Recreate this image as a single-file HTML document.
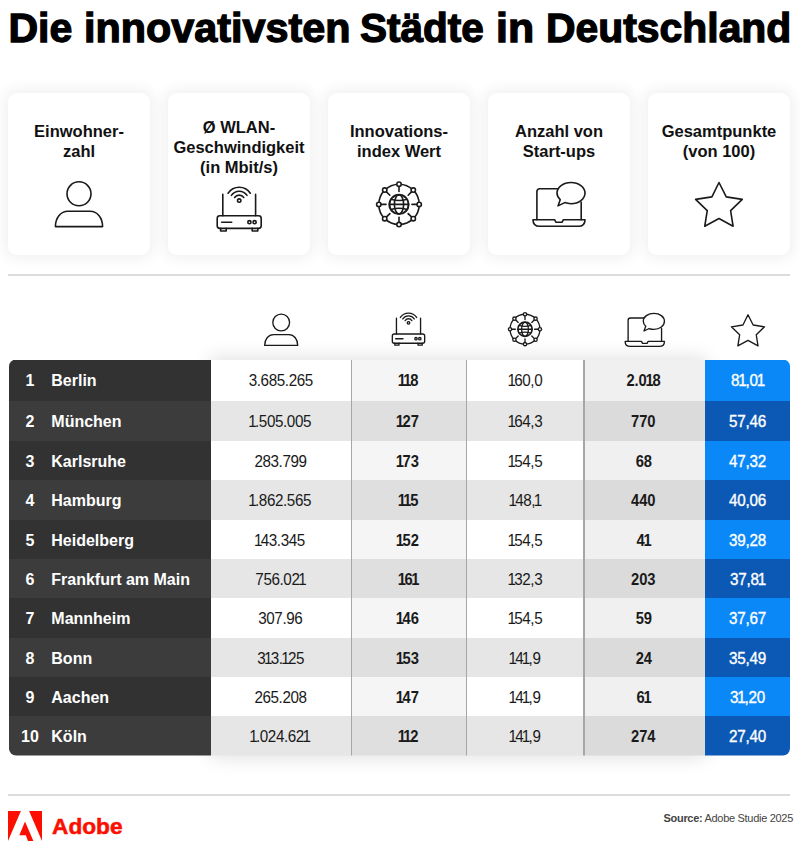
<!DOCTYPE html>
<html lang="de">
<head>
<meta charset="utf-8">
<title>Die innovativsten Städte in Deutschland</title>
<style>
*{box-sizing:border-box;margin:0;padding:0}
html,body{width:800px;height:844px;overflow:hidden;background:#fff}
body{position:relative;font-family:"Liberation Sans",sans-serif;color:#111}
.abs{position:absolute}
#title{left:0;top:3px;width:800px;height:50px;font-weight:bold;font-size:41px;line-height:50px;white-space:nowrap;color:#000;-webkit-text-stroke:1.3px #000}
#title span{position:absolute;top:0;transform-origin:0 50%}
.card{position:absolute;top:93px;width:142px;height:162px;background:#fff;border-radius:9px;box-shadow:0 0 14px 4px rgba(0,0,0,.06)}
.card .lbl{position:absolute;left:-10px;right:-10px;text-align:center;font-weight:bold;font-size:16.5px;line-height:20px;color:#111;white-space:nowrap}
.sep{position:absolute;left:8px;width:782px;height:2px;background:#dcdcdc}
svg.ic{position:absolute;overflow:visible;pointer-events:none}
#tblsh{position:absolute;left:213px;top:361px;width:490px;height:393px;box-shadow:0 0 18px 3px rgba(0,0,0,.13)}
#tbl{position:absolute;left:9px;top:0;width:781px;height:844px;clip-path:inset(359.5px 0 88.5px 0 round 7px)}
.row{position:absolute;left:0;width:781px}
.c{position:absolute;top:0;height:100%;display:flex;align-items:center;justify-content:center;font-size:16px;color:#1a1a1a;white-space:nowrap;padding-top:2.6px}
.c>span{display:inline-block;position:relative;left:-1px}.c6>span,.c4>span{left:0}
.c1{left:0;width:202.3px;justify-content:flex-start;color:#fff;font-weight:bold;font-size:16px}
.c1 .n{position:absolute;left:0;width:42px;text-align:center}
.c1 .t{position:absolute;left:42.3px}
.c2{left:202.3px;width:140px;letter-spacing:-.4px}.c2>span{transform:scaleX(.95)}.c i{font-style:normal;margin:0 -1.45px}
.c3{left:342.3px;width:115.5px;font-weight:bold;letter-spacing:-.15px}.c3>span{transform:scaleX(.92)}.c3 i,.c5 i{margin:0 -1.3px}
.c4{left:457.8px;width:117.1px;letter-spacing:-.4px}.c4>span{transform:scaleX(.95)}
.c5{left:574.9px;width:121px;font-weight:bold;letter-spacing:-.1px}.c5>span{transform:scaleX(.92)}
.c6{left:695.9px;width:85.1px;color:#fff;-webkit-text-stroke:.35px #fff;letter-spacing:-.2px}.c6>span{transform:scaleX(.95)}.c6 i{margin:0 -1px}
.odd .c1{background:#323232}.even .c1{background:#3c3c3c}
.odd .c2{background:#fff}.even .c2{background:#e6e6e6}
.odd .c3{background:#f5f5f5}.even .c3{background:#dfdfdf}
.odd .c4{background:#fff}.even .c4{background:#e6e6e6}
.odd .c5{background:#f0f0f0}.even .c5{background:#dbdbdb}
.odd .c6{background:#0b88f8}.even .c6{background:#0c59b5}
.vl{position:absolute;width:1.4px;background:#a6a6a6}
</style>
</head>
<body>
<div id="title" class="abs"><span style="left:8.5px">Die </span><span style="left:83.5px;transform:scaleX(1.008)">innovativsten </span><span style="left:360.25px;transform:scaleX(.988)">Städte </span><span style="left:496px;transform:scaleX(1.045)">in </span><span style="left:545.5px;transform:scaleX(.997)">Deutschland</span></div>

<div class="card" style="left:8px"><div class="lbl" style="top:28px">Einwohner-<br>zahl</div></div>
<div class="card" style="left:168px"><div class="lbl" style="top:24px">Ø WLAN-<br>Geschwindigkeit<br>(in Mbit/s)</div></div>
<div class="card" style="left:328px"><div class="lbl" style="top:28px">Innovations-<br>index Wert</div></div>
<div class="card" style="left:488px"><div class="lbl" style="top:28px">Anzahl von<br>Start-ups</div></div>
<div class="card" style="left:648px"><div class="lbl" style="top:28px">Gesamtpunkte<br>(von 100)</div></div>

<svg class="ic" style="left:0;top:0" width="800" height="844" viewBox="0 0 800 844"><g transform="translate(79 208) scale(1)"><g fill="none" stroke="#1a1a1a" stroke-width="1.6" stroke-linejoin="round"><circle cx="0" cy="-14.2" r="12"/><path d="M-23.6 18.6 C-23.6 10 -18.5 3.2 -11 3.2 H11 C18.5 3.2 23.6 10 23.6 18.6 Z"/></g></g></svg>
<svg class="ic" style="left:0;top:0" width="800" height="844" viewBox="0 0 800 844"><g transform="translate(239.2 209.8) scale(1)"><g fill="none" stroke="#1a1a1a" stroke-width="1.6" stroke-linecap="round" stroke-linejoin="round">
<rect x="-22" y="6" width="44" height="12.6" rx="2.6"/>
<path d="M-18.6 18.6 v2.6 h5.6 v-2.6 M13 18.6 v2.6 h5.6 v-2.6"/>
<path d="M-16.4 6 V-15.4 M16.4 6 V-15.4"/>
<path d="M-17.5 12.4 H-7.5"/>
<circle cx="10.2" cy="12.4" r="1.6"/><circle cx="15.4" cy="12.4" r="1.6"/>
<circle cx="0" cy="-9.2" r="1.7"/>
<path d="M-4.56 -12.27 A5.5 5.5 0 0 1 4.56 -12.27"/>
<path d="M-7.8 -14.45 A9.4 9.4 0 0 1 7.8 -14.45"/>
<path d="M-11.1 -16.53 A13.3 13.3 0 0 1 11.1 -16.53"/>
</g></g></svg>
<svg class="ic" style="left:0;top:0" width="800" height="844" viewBox="0 0 800 844"><g transform="translate(399 204.4) scale(1)"><g fill="none" stroke="#1a1a1a" stroke-width="1.6" stroke-linecap="round"><circle cx="0" cy="0" r="20.2"/><path d="M18.00 0.00 L13.00 0.00"/><circle cx="20.20" cy="0.00" r="2.2" fill="#fff"/><path d="M12.73 12.73 L9.19 9.19"/><circle cx="14.28" cy="14.28" r="2.2" fill="#fff"/><path d="M0.00 18.00 L0.00 13.00"/><circle cx="0.00" cy="20.20" r="2.2" fill="#fff"/><path d="M-12.73 12.73 L-9.19 9.19"/><circle cx="-14.28" cy="14.28" r="2.2" fill="#fff"/><path d="M-18.00 0.00 L-13.00 0.00"/><circle cx="-20.20" cy="0.00" r="2.2" fill="#fff"/><path d="M-12.73 -12.73 L-9.19 -9.19"/><circle cx="-14.28" cy="-14.28" r="2.2" fill="#fff"/><path d="M-0.00 -18.00 L-0.00 -13.00"/><circle cx="-0.00" cy="-20.20" r="2.2" fill="#fff"/><path d="M12.73 -12.73 L9.19 -9.19"/><circle cx="14.28" cy="-14.28" r="2.2" fill="#fff"/><circle cx="0" cy="0" r="9.6" stroke-width="2.0"/><ellipse cx="0" cy="0" rx="4.6" ry="9.6"/><path d="M-9.6 0 H9.6"/><path d="M-8 -5.2 Q0 -2.6 8 -5.2 M-8 5.2 Q0 2.6 8 5.2"/></g></g></svg>
<svg class="ic" style="left:0;top:0" width="800" height="844" viewBox="0 0 800 844"><g transform="translate(559 204.3) scale(1)"><g fill="none" stroke="#1a1a1a" stroke-width="1.6" stroke-linejoin="round" stroke-linecap="round">
<path d="M-22.1 15.4 V-12.6 Q-22.1 -15.6 -19.1 -15.6 H-1.5 M22.2 -2 V15.4"/>
<path d="M-26 15.4 H-4.4 l1.4 2.6 h6 l1.4 -2.6 H26 Q26 22 19.4 22 H-19.4 Q-26 22 -26 15.4 Z"/>
<path d="M12 -21.8 C19.8 -21.8 26 -17.2 26 -11.2 C26 -5.2 19.8 -0.6 12 -0.6 C9.8 -0.6 7.6 -1 5.8 -1.7 L-1 1.6 L1.2 -4.6 C-0.8 -6.4 -2 -8.7 -2 -11.2 C-2 -17.2 4.2 -21.8 12 -21.8 Z"/>
</g></g></svg>
<svg class="ic" style="left:0;top:0" width="800" height="844" viewBox="0 0 800 844"><g transform="translate(719 207) scale(1)"><path d="M0 -24.5 L7.25 -10.1 L23.25 -7.6 L11.6 3.6 L14.1 19.25 L0 11.5 L-14.25 19.25 L-11.75 3.6 L-23.4 -7.6 L-7.1 -10.1 Z" fill="none" stroke="#1a1a1a" stroke-width="1.6" stroke-linejoin="round"/></g></svg>
<div class="sep" style="top:274px"></div>
<svg class="ic" style="left:0;top:0" width="800" height="844" viewBox="0 0 800 844"><g transform="translate(281.2 332.4) scale(0.7)"><g fill="none" stroke="#1a1a1a" stroke-width="1.9285714285714288" stroke-linejoin="round"><circle cx="0" cy="-14.2" r="12"/><path d="M-23.6 18.6 C-23.6 10 -18.5 3.2 -11 3.2 H11 C18.5 3.2 23.6 10 23.6 18.6 Z"/></g></g></svg>
<svg class="ic" style="left:0;top:0" width="800" height="844" viewBox="0 0 800 844"><g transform="translate(408.5 329.6) scale(0.735)"><g fill="none" stroke="#1a1a1a" stroke-width="1.8367346938775513" stroke-linecap="round" stroke-linejoin="round">
<rect x="-22" y="6" width="44" height="12.6" rx="2.6"/>
<path d="M-18.6 18.6 v2.6 h5.6 v-2.6 M13 18.6 v2.6 h5.6 v-2.6"/>
<path d="M-16.4 6 V-15.4 M16.4 6 V-15.4"/>
<path d="M-17.5 12.4 H-7.5"/>
<circle cx="10.2" cy="12.4" r="1.6"/><circle cx="15.4" cy="12.4" r="1.6"/>
<circle cx="0" cy="-9.2" r="1.7"/>
<path d="M-4.56 -12.27 A5.5 5.5 0 0 1 4.56 -12.27"/>
<path d="M-7.8 -14.45 A9.4 9.4 0 0 1 7.8 -14.45"/>
<path d="M-11.1 -16.53 A13.3 13.3 0 0 1 11.1 -16.53"/>
</g></g></svg>
<svg class="ic" style="left:0;top:0" width="800" height="844" viewBox="0 0 800 844"><g transform="translate(525 329.2) scale(0.74)"><g fill="none" stroke="#1a1a1a" stroke-width="1.8243243243243246" stroke-linecap="round"><circle cx="0" cy="0" r="20.2"/><path d="M18.00 0.00 L13.00 0.00"/><circle cx="20.20" cy="0.00" r="2.2" fill="#fff"/><path d="M12.73 12.73 L9.19 9.19"/><circle cx="14.28" cy="14.28" r="2.2" fill="#fff"/><path d="M0.00 18.00 L0.00 13.00"/><circle cx="0.00" cy="20.20" r="2.2" fill="#fff"/><path d="M-12.73 12.73 L-9.19 9.19"/><circle cx="-14.28" cy="14.28" r="2.2" fill="#fff"/><path d="M-18.00 0.00 L-13.00 0.00"/><circle cx="-20.20" cy="0.00" r="2.2" fill="#fff"/><path d="M-12.73 -12.73 L-9.19 -9.19"/><circle cx="-14.28" cy="-14.28" r="2.2" fill="#fff"/><path d="M-0.00 -18.00 L-0.00 -13.00"/><circle cx="-0.00" cy="-20.20" r="2.2" fill="#fff"/><path d="M12.73 -12.73 L9.19 -9.19"/><circle cx="14.28" cy="-14.28" r="2.2" fill="#fff"/><circle cx="0" cy="0" r="9.6" stroke-width="2.2804054054054057"/><ellipse cx="0" cy="0" rx="4.6" ry="9.6"/><path d="M-9.6 0 H9.6"/><path d="M-8 -5.2 Q0 -2.6 8 -5.2 M-8 5.2 Q0 2.6 8 5.2"/></g></g></svg>
<svg class="ic" style="left:0;top:0" width="800" height="844" viewBox="0 0 800 844"><g transform="translate(644.8 329.8) scale(0.755)"><g fill="none" stroke="#1a1a1a" stroke-width="1.7880794701986755" stroke-linejoin="round" stroke-linecap="round">
<path d="M-22.1 15.4 V-12.6 Q-22.1 -15.6 -19.1 -15.6 H-1.5 M22.2 -2 V15.4"/>
<path d="M-26 15.4 H-4.4 l1.4 2.6 h6 l1.4 -2.6 H26 Q26 22 19.4 22 H-19.4 Q-26 22 -26 15.4 Z"/>
<path d="M12 -21.8 C19.8 -21.8 26 -17.2 26 -11.2 C26 -5.2 19.8 -0.6 12 -0.6 C9.8 -0.6 7.6 -1 5.8 -1.7 L-1 1.6 L1.2 -4.6 C-0.8 -6.4 -2 -8.7 -2 -11.2 C-2 -17.2 4.2 -21.8 12 -21.8 Z"/>
</g></g></svg>
<svg class="ic" style="left:0;top:0" width="800" height="844" viewBox="0 0 800 844"><g transform="translate(748 332.2) scale(0.71)"><path d="M0 -24.5 L7.25 -10.1 L23.25 -7.6 L11.6 3.6 L14.1 19.25 L0 11.5 L-14.25 19.25 L-11.75 3.6 L-23.4 -7.6 L-7.1 -10.1 Z" fill="none" stroke="#1a1a1a" stroke-width="1.9014084507042255" stroke-linejoin="round"/></g></svg>
<div id="tblsh"></div>
<div id="tbl">
<div class="row odd" style="top:359.5px;height:41.0px"><div class="c c1"><span class="n">1</span><span class="t">Berlin</span></div><div class="c c2"><span>3.685.265</span></div><div class="c c3"><span><i>1</i><i>1</i>8</span></div><div class="c c4"><span><i>1</i>60,0</span></div><div class="c c5"><span>2.0<i>1</i>8</span></div><div class="c c6"><span>8<i>1</i>,0<i>1</i></span></div></div>
<div class="row even" style="top:400.5px;height:40.0px"><div class="c c1"><span class="n">2</span><span class="t">München</span></div><div class="c c2"><span><i>1</i>.505.005</span></div><div class="c c3"><span><i>1</i>27</span></div><div class="c c4"><span><i>1</i>64,3</span></div><div class="c c5"><span>770</span></div><div class="c c6"><span>57,46</span></div></div>
<div class="row odd" style="top:440.5px;height:39.5px"><div class="c c1"><span class="n">3</span><span class="t">Karlsruhe</span></div><div class="c c2"><span>283.799</span></div><div class="c c3"><span><i>1</i>73</span></div><div class="c c4"><span><i>1</i>54,5</span></div><div class="c c5"><span>68</span></div><div class="c c6"><span>47,32</span></div></div>
<div class="row even" style="top:480px;height:39.5px"><div class="c c1"><span class="n">4</span><span class="t">Hamburg</span></div><div class="c c2"><span><i>1</i>.862.565</span></div><div class="c c3"><span><i>1</i><i>1</i>5</span></div><div class="c c4"><span><i>1</i>48,<i>1</i></span></div><div class="c c5"><span>440</span></div><div class="c c6"><span>40,06</span></div></div>
<div class="row odd" style="top:519.5px;height:39.5px"><div class="c c1"><span class="n">5</span><span class="t">Heidelberg</span></div><div class="c c2"><span><i>1</i>43.345</span></div><div class="c c3"><span><i>1</i>52</span></div><div class="c c4"><span><i>1</i>54,5</span></div><div class="c c5"><span>4<i>1</i></span></div><div class="c c6"><span>39,28</span></div></div>
<div class="row even" style="top:559px;height:39px"><div class="c c1"><span class="n">6</span><span class="t">Frankfurt am Main</span></div><div class="c c2"><span>756.02<i>1</i></span></div><div class="c c3"><span><i>1</i>6<i>1</i></span></div><div class="c c4"><span><i>1</i>32,3</span></div><div class="c c5"><span>203</span></div><div class="c c6"><span>37,8<i>1</i></span></div></div>
<div class="row odd" style="top:598px;height:39.5px"><div class="c c1"><span class="n">7</span><span class="t">Mannheim</span></div><div class="c c2"><span>307.96</span></div><div class="c c3"><span><i>1</i>46</span></div><div class="c c4"><span><i>1</i>54,5</span></div><div class="c c5"><span>59</span></div><div class="c c6"><span>37,67</span></div></div>
<div class="row even" style="top:637.5px;height:39.5px"><div class="c c1"><span class="n">8</span><span class="t">Bonn</span></div><div class="c c2"><span>3<i>1</i>3.<i>1</i>25</span></div><div class="c c3"><span><i>1</i>53</span></div><div class="c c4"><span><i>1</i>4<i>1</i>,9</span></div><div class="c c5"><span>24</span></div><div class="c c6"><span>35,49</span></div></div>
<div class="row odd" style="top:677px;height:39px"><div class="c c1"><span class="n">9</span><span class="t">Aachen</span></div><div class="c c2"><span>265.208</span></div><div class="c c3"><span><i>1</i>47</span></div><div class="c c4"><span><i>1</i>4<i>1</i>,9</span></div><div class="c c5"><span>6<i>1</i></span></div><div class="c c6"><span>3<i>1</i>,20</span></div></div>
<div class="row even" style="top:716px;height:39.5px"><div class="c c1"><span class="n">10</span><span class="t">Köln</span></div><div class="c c2"><span><i>1</i>.024.62<i>1</i></span></div><div class="c c3"><span><i>1</i><i>1</i>2</span></div><div class="c c4"><span><i>1</i>4<i>1</i>,9</span></div><div class="c c5"><span>274</span></div><div class="c c6"><span>27,40</span></div></div>
<div class="vl" style="left:341.6px;top:359.5px;height:396.0px"></div>
<div class="vl" style="left:457.1px;top:359.5px;height:396.0px"></div>
<div class="vl" style="left:574.1999999999999px;top:359.5px;height:396.0px"></div>
</div>
<div class="sep" style="top:794px"></div>
<svg class="ic" style="left:8px;top:811px" width="34" height="30" viewBox="0 0 34 30"><path d="M0 0H12.9L0 30Z M34 0H21.1L34 30Z M17 10.4L25.4 30H20L17.8 24.2H11.3Z" fill="#fa0f00"/></svg>
<div class="abs" style="left:52px;top:811px;font-weight:bold;font-size:22.7px;line-height:30px;color:#fa0f00;-webkit-text-stroke:.5px #fa0f00;white-space:nowrap">Adobe</div>
<div class="abs" style="right:7px;top:810px;font-size:11px;line-height:16px;letter-spacing:-.3px;color:#444;white-space:nowrap"><b>Source:</b> Adobe Studie 2025</div>
</body>
</html>
